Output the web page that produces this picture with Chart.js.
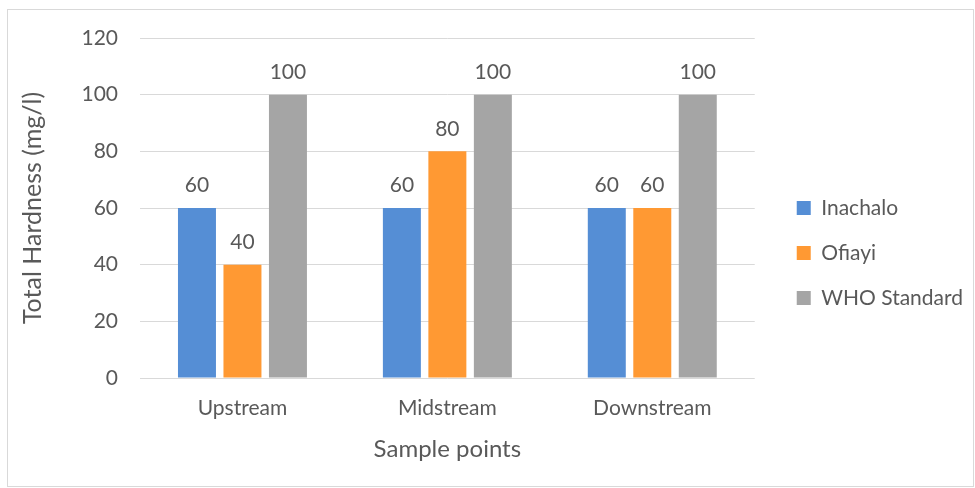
<!DOCTYPE html>
<html>
<head>
<meta charset="utf-8">
<script src="https://cdn.jsdelivr.net/npm/chart.js@4.4.1/dist/chart.umd.min.js"></script>
<style>
    body { margin: 0; background: #fff; }
    .frame {
        position: absolute; left: 7px; top: 9px;
        width: 965px; height: 476px;
        border: 1px solid #d9d9d9;
    }
</style>
</head>
<body>
<div class="frame"><canvas id="hardnessChart"></canvas></div>
<script>
const samplePoints = ['Upstream', 'Midstream', 'Downstream'];
const inachalo = [60, 60, 60];
const ofiayi = [40, 80, 60];
const whoStandard = [100, 100, 100];
const yTicks = [0, 20, 40, 60, 80, 100, 120];

const FONT = 'Lato, "Open Sans", sans-serif';
const TEXT = '#595959';

// numbers above each bar
const barLabels = {
    id: 'barLabels',
    afterDatasetsDraw(chart) {
        const ctx = chart.ctx;
        ctx.save();
        ctx.font = '21px ' + FONT;
        ctx.fillStyle = TEXT;
        ctx.textAlign = 'center';
        ctx.textBaseline = 'bottom';
        chart.data.datasets.forEach((ds, i) => {
            chart.getDatasetMeta(i).data.forEach((bar, j) => {
                ctx.fillText(ds.data[j], bar.x, bar.y - 12);
            });
        });
        ctx.restore();
    }
};

new Chart(document.getElementById('hardnessChart'), {
    type: 'bar',
    data: {
        labels: samplePoints,
        datasets: [
            { label: 'Inachalo', data: inachalo, backgroundColor: '#558ed5' },
            { label: 'Ofiayi', data: ofiayi, backgroundColor: '#ff9933' },
            { label: 'WHO Standard', data: whoStandard, backgroundColor: '#a5a5a5' }
        ]
    },
    options: {
        responsive: true,
        maintainAspectRatio: false,
        animation: false,
        categoryPercentage: 0.666,
        barPercentage: 0.835,
        layout: { padding: { top: 28, right: 0, bottom: 18, left: 0 } },
        plugins: {
            legend: {
                position: 'right',
                maxWidth: 240,
                labels: {
                    font: { family: FONT, size: 21 },
                    color: TEXT,
                    boxWidth: 14,
                    boxHeight: 14,
                    padding: 24
                }
            },
            tooltip: { enabled: false }
        },
        scales: {
            x: {
                afterFit(axis) { axis.height = 90; },
                grid: { display: false },
                border: { display: false },
                ticks: { font: { family: FONT, size: 21 }, color: TEXT, padding: 10 },
                title: {
                    display: true, text: 'Sample points',
                    font: { family: FONT, size: 24 }, color: TEXT, padding: { top: 0, bottom: 4 }
                }
            },
            y: {
                min: 0, max: 120,
                afterBuildTicks(axis) { axis.ticks = yTicks.map(v => ({ value: v })); },
                afterFit(axis) {
                    axis.width = 132;
                    axis.paddingTop = 0;
                    axis.paddingBottom = 0;
                },
                grid: { color: '#d9d9d9', drawTicks: false },
                border: { display: false },
                ticks: { font: { family: FONT, size: 21 }, color: TEXT, padding: 22 },
                title: {
                    display: true, text: 'Total Hardness (mg/l)',
                    font: { family: FONT, size: 25 }, color: TEXT, padding: { top: 10 }
                }
            },
            // empty spacer between the plot and the legend
            gap: {
                position: 'right',
                afterFit(axis) {
                    axis.width = 18;
                    axis.paddingTop = 0;
                    axis.paddingBottom = 0;
                },
                grid: { display: false },
                border: { display: false },
                ticks: { display: false }
            }
        }
    },
    plugins: [barLabels]
});
</script>
</body>
</html>
